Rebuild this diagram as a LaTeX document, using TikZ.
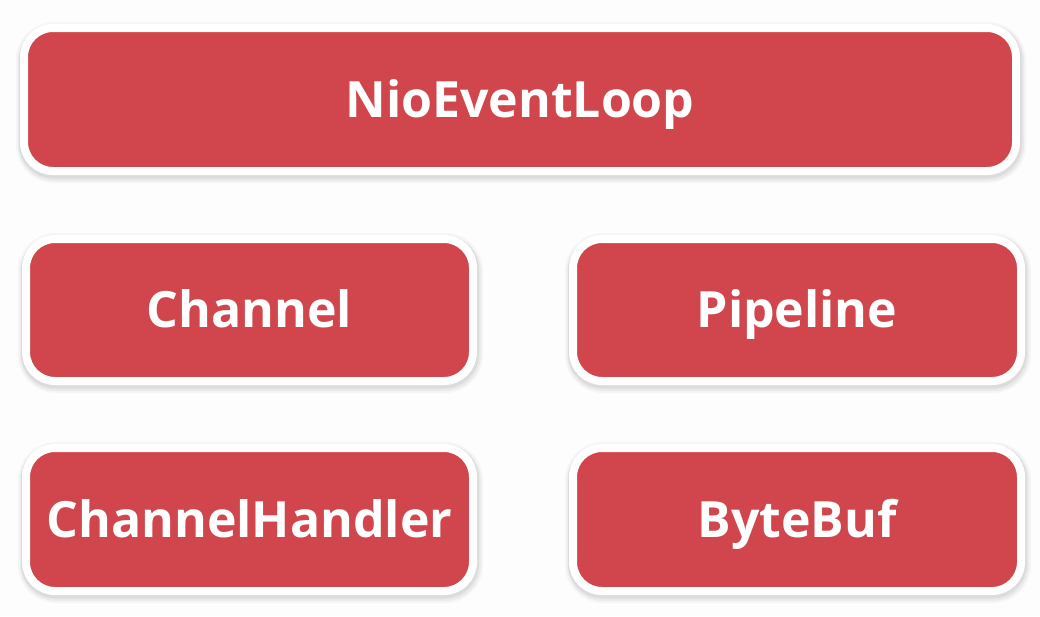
\documentclass[tikz,border=0pt]{standalone}
\usepackage{fontspec}
\setmainfont{Open Sans}
\definecolor{cardred}{HTML}{D0464C}
\definecolor{bgwhite}{HTML}{FDFDFD}
\tikzset{
  card/.style={rounded corners=29pt, fill=cardred, draw=white, line width=8pt,
    text=white, inner sep=0pt, text height=35.5pt, text depth=0pt,
    font=\fontsize{50pt}{60pt}\selectfont\bfseries,
    preaction={draw=black, draw opacity=0.03, fill=none, line width=18pt,
      transform canvas={xshift=1pt,yshift=-3pt}},
    preaction={draw=black, draw opacity=0.045, fill=none, line width=14pt,
      transform canvas={xshift=1pt,yshift=-3pt}},
    preaction={draw=black, draw opacity=0.06, fill=none, line width=11pt,
      transform canvas={xshift=0.5pt,yshift=-2pt}}},
}
\begin{document}
\begin{tikzpicture}[x=1pt,y=-1pt]
  \fill[bgwhite] (0,0) rectangle (1040,616);
  \useasboundingbox (0,0) rectangle (1040,616);
  \node[card, minimum width=992pt, minimum height=143pt] (nel) at (520,99.5) {NioEventLoop};
  \node[card, minimum width=447pt, minimum height=142pt] (ch) at (249.5,310) {Channel};
  \node[card, minimum width=448pt, minimum height=142pt] (pl) at (797,310) {Pipeline};
  \node[card, minimum width=447pt, minimum height=143pt] (chh) at (249.5,519.5) {ChannelHandler};
  \node[card, minimum width=448pt, minimum height=143pt] (bb) at (797,519.5) {ByteBuf};
\end{tikzpicture}
\end{document}
